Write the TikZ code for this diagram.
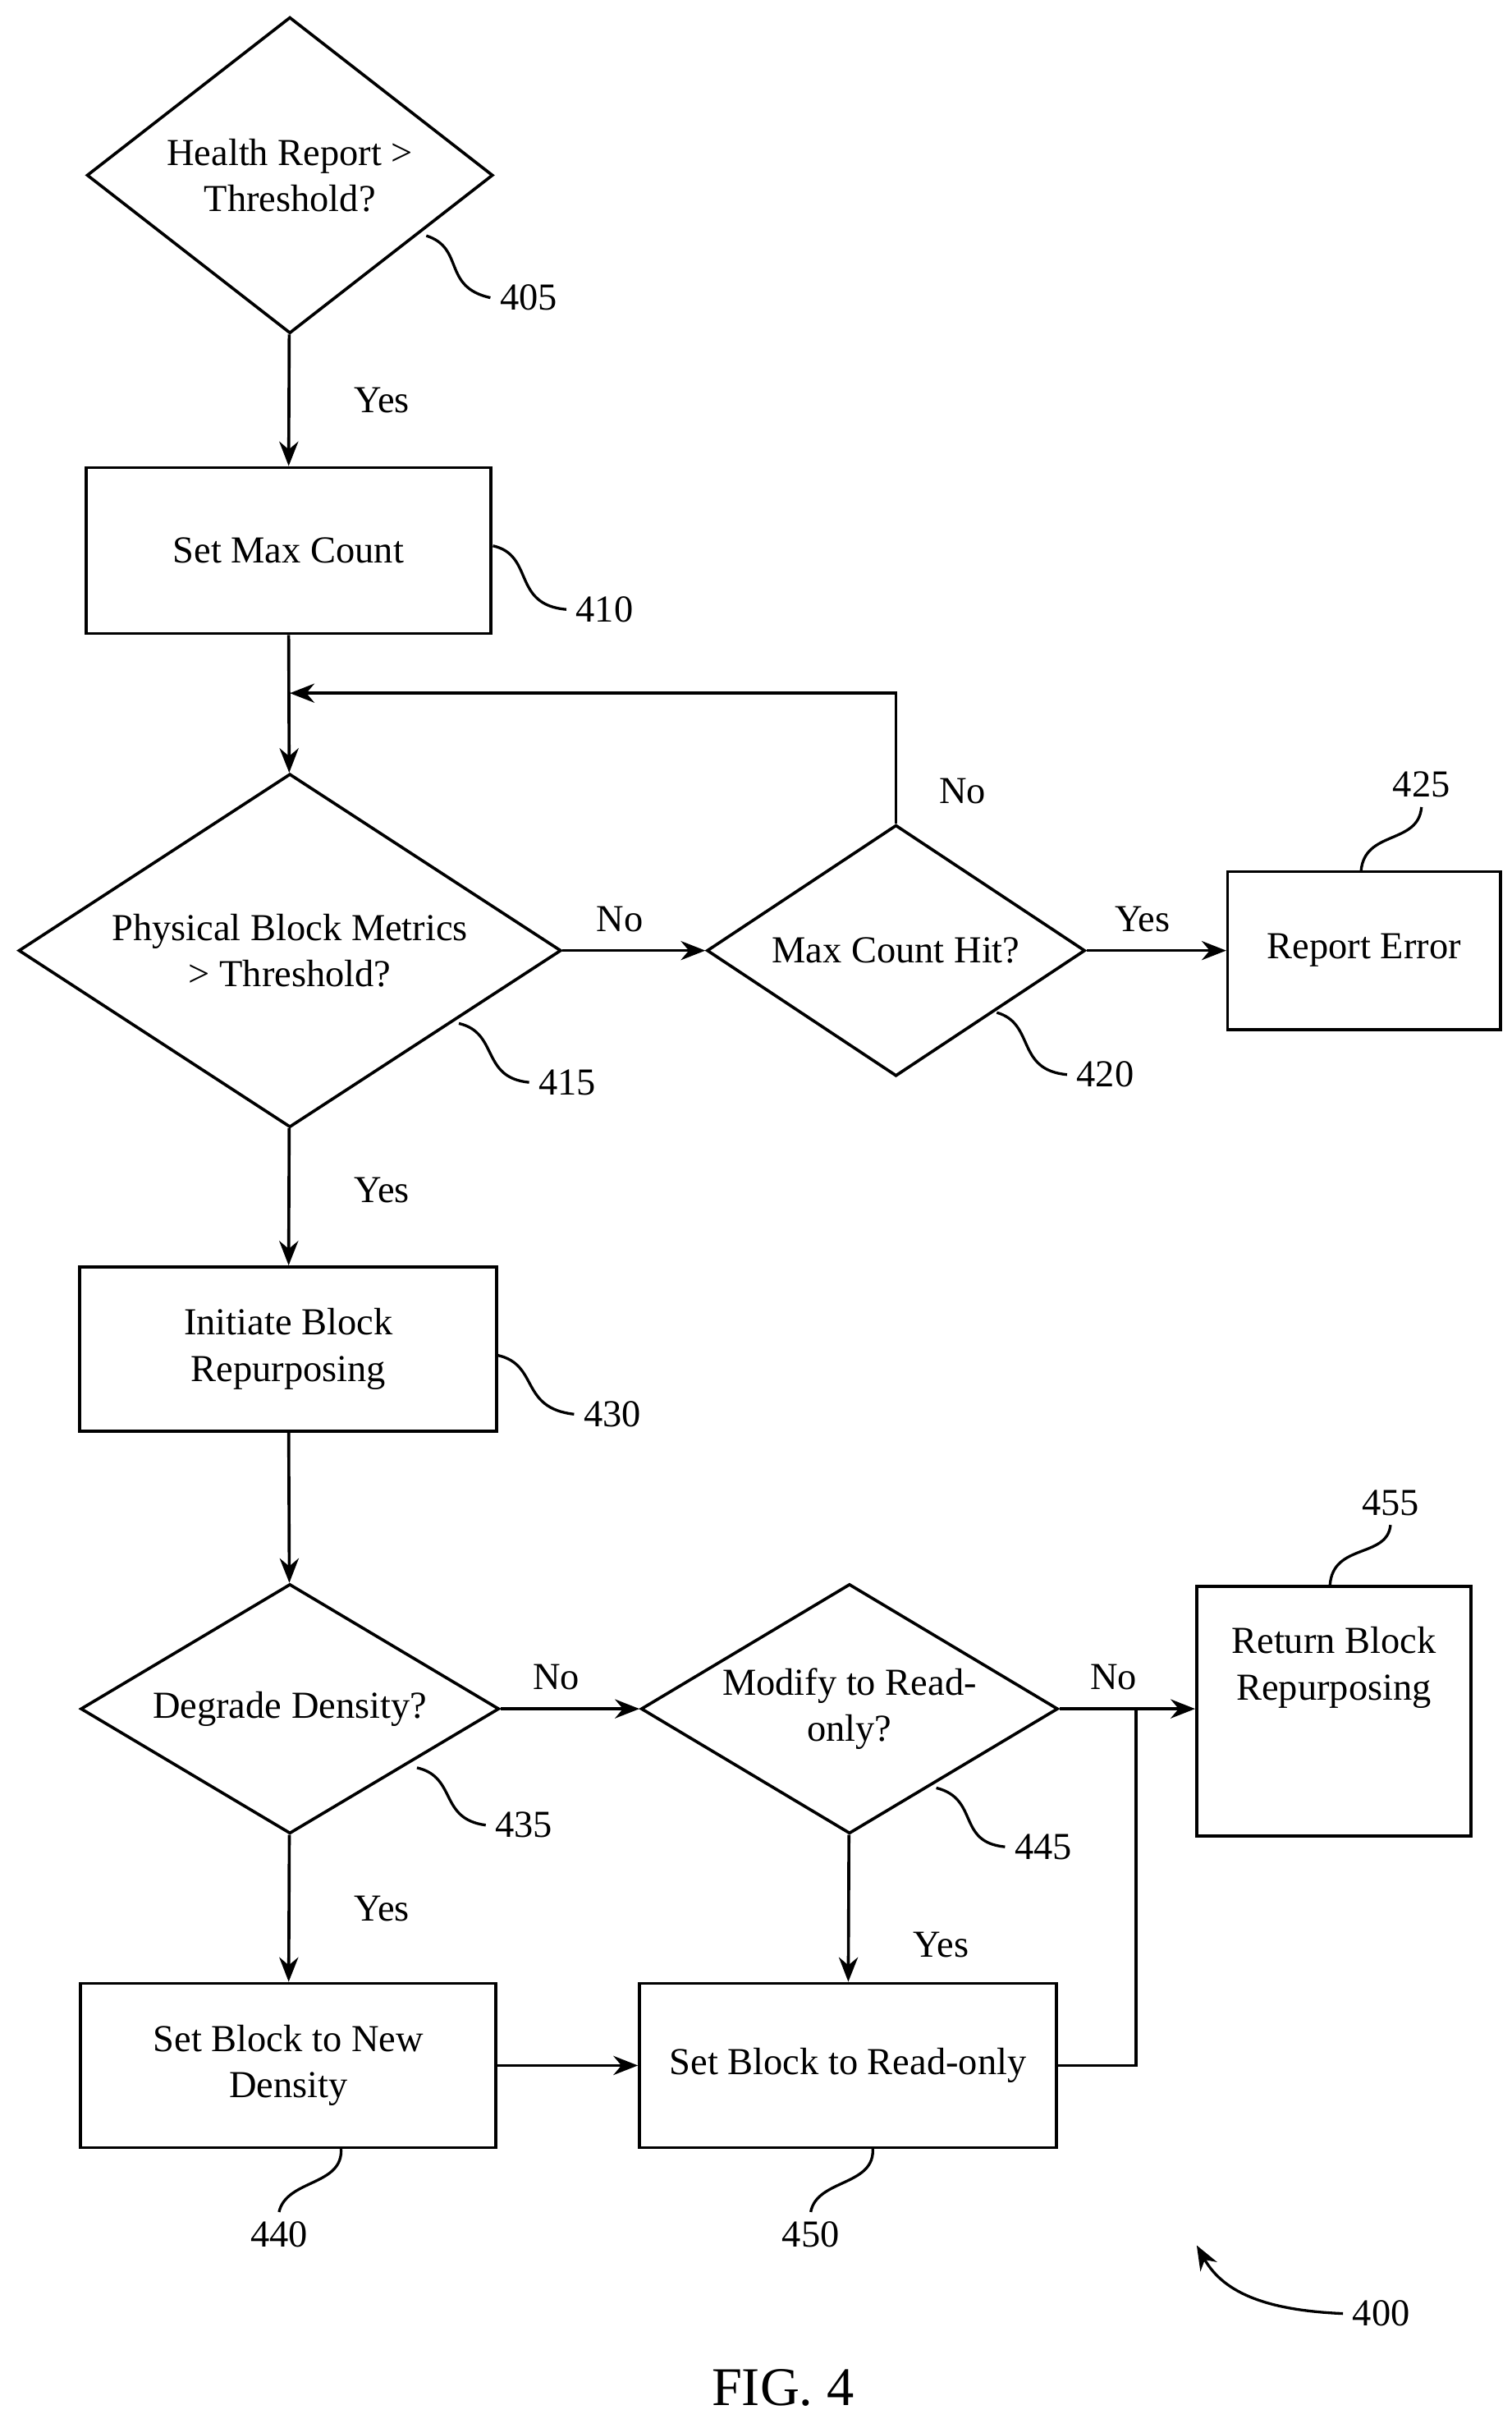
\documentclass[tikz,border=0pt]{standalone}
\usepackage{fontspec}
\setmainfont{Liberation Serif}
\usetikzlibrary{shapes.geometric,arrows.meta}
\begin{document}
\begin{tikzpicture}[x=0.02cm,y=-0.02cm,
    font=\fontsize{14}{17}\selectfont,
    box/.style={draw, line width=1.1pt, align=center, inner sep=0pt},
    dec/.style={draw, diamond, line width=1.1pt, align=center, inner sep=0pt},
    flow/.style={line width=1.1pt, -{Stealth[length=9pt,width=7pt]}},
    lead/.style={line width=1pt}]
  \useasboundingbox (0,0) rectangle (975,1560);
  % decisions and steps
  \node[dec, aspect=1.28, minimum width=262*0.02cm, minimum height=204*0.02cm] (d405) at (187,113) {Health Report >\\Threshold?};
  \node[box, minimum width=261*0.02cm, minimum height=107*0.02cm] (b410) at (186,355) {Set Max Count};
  \node[dec, aspect=1.53, minimum width=350*0.02cm, minimum height=228*0.02cm] (d415) at (187,613) {Physical Block Metrics\\> Threshold?};
  \node[dec, aspect=1.5, minimum width=244*0.02cm, minimum height=162*0.02cm] (d420) at (578,613) {Max Count Hit?};
  \node[box, minimum width=176*0.02cm, minimum height=102*0.02cm] (b425) at (880,613) {Report Error};
  \node[box, minimum width=269*0.02cm, minimum height=106*0.02cm] (b430) at (186,870) {Initiate Block\\Repurposing};
  \node[dec, aspect=1.67, minimum width=270*0.02cm, minimum height=161*0.02cm] (d435) at (187,1102) {Degrade Density?};
  \node[dec, aspect=1.67, minimum width=269*0.02cm, minimum height=161*0.02cm] (d445) at (548,1102) {Modify to Read-\\only?};
  \node[box, minimum width=177*0.02cm, minimum height=161*0.02cm, anchor=north west] (b455) at (771,1022) {Return Block\\Repurposing\\[18pt]};
  \node[box, minimum width=268*0.02cm, minimum height=106*0.02cm] (b440) at (186,1332) {Set Block to New\\Density};
  \node[box, minimum width=269*0.02cm, minimum height=106*0.02cm] (b450) at (547,1332) {Set Block to Read-only};
  % reference numbers
  \node (n405) at (341,192) {405};
  \node (n410) at (390,393) {410};
  \node (n415) at (366,698) {415};
  \node (n420) at (713,693) {420};
  \node (n425) at (917,506) {425};
  \node (n430) at (395,912) {430};
  \node (n435) at (338,1177) {435};
  \node (n445) at (673,1191) {445};
  \node (n455) at (897,969) {455};
  \node (n440) at (180,1441) {440};
  \node (n450) at (523,1441) {450};
  \node (n400) at (891,1492) {400};
  \node[font=\fontsize{20}{22}\selectfont] (fig) at (505,1540) {FIG. 4};
  % connectors
  \coordinate (loop) at (187,447);
  \coordinate (ret) at (733,1102);
  \draw[flow] (d405) -- node[right=20pt] {Yes} (b410);
  \draw[flow] (b410) -- (d415);
  \draw[flow] (d415) -- node[above=3pt, pos=0.4] {No} (d420);
  \draw[flow] (d420) -- node[above=3pt, pos=0.4] {Yes} (b425);
  \draw[flow] (d420.north) -- node[right=12pt, pos=0.25] {No} (d420.north |- loop) -- (loop);
  \draw[flow] (d415) -- node[right=20pt, pos=0.45] {Yes} (b430);
  \draw[flow] (b430) -- (d435);
  \draw[flow] (d435) -- node[above=3pt, pos=0.4] {No} (d445);
  \draw[flow] (d445.east) -- node[above=3pt, pos=0.4] {No} (b455.west |- ret);
  \draw[flow] (d435) -- node[right=20pt, pos=0.5] {Yes} (b440);
  \draw[flow] (d445) -- node[right=20pt, pos=0.75] {Yes} (b450);
  \draw[flow] (b440) -- (b450);
  \draw[line width=1.1pt] (b450.east) -- (ret |- b450.east) -- (ret);
  % leaders
  \draw[lead] (275,152) .. controls (300,160) and (285,185) .. (n405.west);
  \draw[lead] (318,352) .. controls (345,358) and (330,390) .. (n410.west);
  \draw[lead] (296,660) .. controls (322,666) and (310,695) .. (n415.west);
  \draw[lead] (643,653) .. controls (668,660) and (655,690) .. (n420.west);
  \draw[lead] (878,562) .. controls (880,535) and (915,545) .. (n425.south);
  \draw[lead] (321,874) .. controls (348,880) and (335,908) .. (n430.west);
  \draw[lead] (269,1140) .. controls (295,1146) and (283,1173) .. (n435.west);
  \draw[lead] (604,1153) .. controls (632,1160) and (617,1188) .. (n445.west);
  \draw[lead] (858,1022) .. controls (860,995) and (895,1005) .. (n455.south);
  \draw[lead] (220,1385) .. controls (222,1410) and (185,1405) .. (n440.north);
  \draw[lead] (563,1385) .. controls (565,1410) and (527,1405) .. (n450.north);
  \draw[line width=1pt, -{Stealth[length=9pt,width=7pt]}] (n400.west) .. controls (820,1490) and (790,1480) .. (772,1448);
\end{tikzpicture}
\end{document}
